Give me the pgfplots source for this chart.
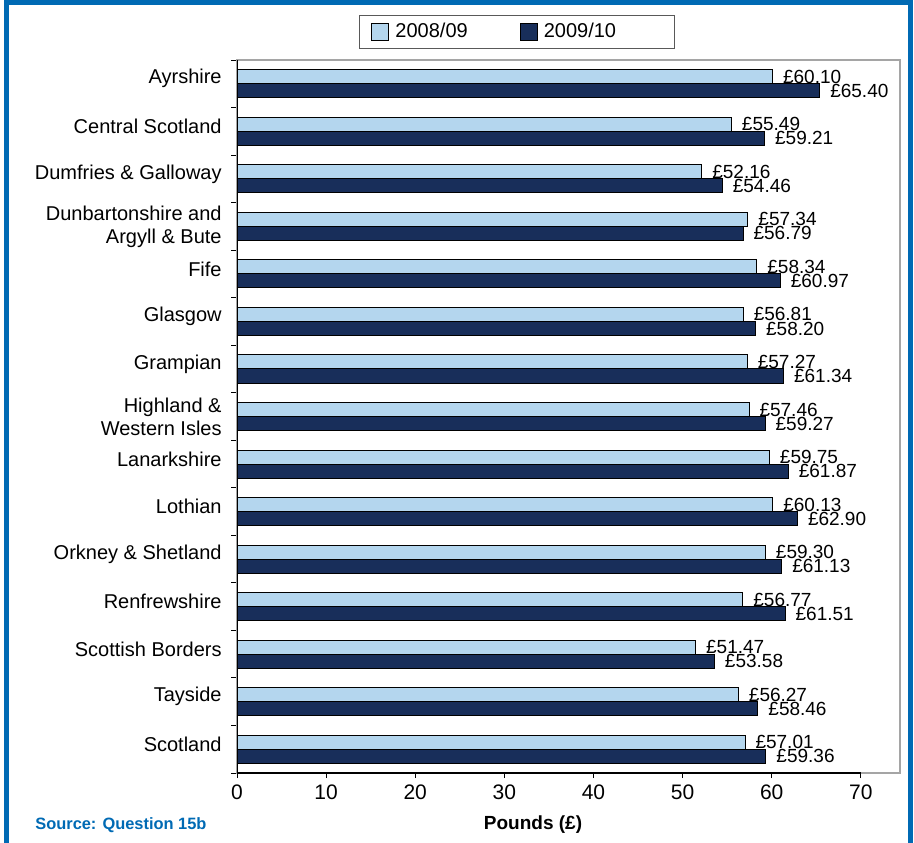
\documentclass[border=0pt]{standalone}
\usepackage{fontspec}
\setmainfont{Liberation Sans}
\usepackage{pgfplots}
\usepackage{pgfplotstable}
\pgfplotsset{compat=1.18}
\definecolor{lightbar}{RGB}{180,214,238}
\definecolor{darkbar}{RGB}{24,46,90}
\definecolor{frameblue}{RGB}{0,106,180}
\definecolor{plotgray}{RGB}{165,165,165}

\pgfplotstableread{
i a b
0 60.10 65.40
1 55.49 59.21
2 52.16 54.46
3 57.34 56.79
4 58.34 60.97
5 56.81 58.20
6 57.27 61.34
7 57.46 59.27
8 59.75 61.87
9 60.13 62.90
10 59.30 61.13
11 56.77 61.51
12 51.47 53.58
13 56.27 58.46
14 57.01 59.36
}\data

\newcommand{\up}[1]{\raisebox{2.5pt}[\height][\depth]{#1}}

\begin{document}
\begin{tikzpicture}
\useasboundingbox (0,0) rectangle (457pt,-421pt);
\begin{axis}[
  at={(118.5pt,-386.5pt)}, anchor=south west,
  scale only axis, width=331.5pt, height=356.5pt,
  xbar, bar width=0.295,
  y dir=reverse,
  xmin=0, xmax=74.4, ymin=-0.5, ymax=14.5,
  /pgf/number format/assume math mode=true,
  xtick={0,10,...,70},
  ytick={0,...,14},
  yticklabels={\up{Ayrshire},\up{Central Scotland},\up{Dumfries \& Galloway},{Dunbartonshire and\\Argyll \& Bute},\up{Fife},\up{Glasgow},\up{Grampian},{Highland \&\\Western Isles},\up{Lanarkshire},\up{Lothian},\up{Orkney \& Shetland},\up{Renfrewshire},\up{Scottish Borders},\up{Tayside},\up{Scotland}},
  minor ytick={-0.5,0.5,...,14.5},
  xtick pos=bottom, ytick pos=left,
  tick align=outside,
  major tick length=2.5pt, minor tick length=3pt,
  major y tick style={draw=none},
  every tick/.style={black, line width=0.5pt},
  every minor tick/.style={black, line width=0.5pt},
  axis line style={plotgray, line width=1pt},
  yticklabel style={font=\fontsize{10}{11.5}\selectfont, align=right, inner sep=0pt, xshift=-5pt},
  xticklabel style={font=\fontsize{10.5}{12}\selectfont},
  xlabel={Pounds (£)},
  every axis x label/.style={at={(axis description cs:0.4465,0)}, anchor=center, yshift=-26pt, font=\bfseries\fontsize{9.5}{11}\selectfont},
  point meta=x,
  nodes near coords={£\pgfmathprintnumber[fixed,fixed zerofill,precision=2]{\pgfplotspointmeta}},
  every node near coord/.append style={font=\fontsize{9.5}{11}\selectfont, anchor=west, inner sep=0pt, xshift=5pt, black},
  legend columns=2,
  legend style={at={(axis description cs:0.184,1.0631)}, anchor=north west, draw=gray!70!black, line width=0.5pt, font=\fontsize{10}{12}\selectfont, inner xsep=6pt, inner ysep=2.8pt, nodes={inner xsep=1pt, inner ysep=1pt}, /tikz/every even column/.append style={column sep=25pt}},
  legend image code/.code={\draw[#1, line width=0.5pt] (0pt,-4.25pt) rectangle (8.5pt,4.25pt); \path (10.5pt,0pt);},
]
\addplot[fill=lightbar, draw=black, line width=0.5pt, bar shift=-0.1475] table[x=a, y=i] {\data};
\addplot[fill=darkbar, draw=black, line width=0.5pt, bar shift=0.1475] table[x=b, y=i] {\data};
\legend{2008/09, 2009/10\hspace*{22pt}}
\draw[black, line width=0.6pt] (axis cs:0,-0.55) -- (axis cs:0,14.5) -- (axis cs:70,14.5);
\end{axis}
\node[anchor=west, font=\bfseries\fontsize{8.2}{10}\selectfont, text=frameblue, inner sep=0pt] at (17.5pt,-412.5pt) {Source: Question 15b};
\draw[frameblue, line width=2.5pt] (3.25pt,-430pt) -- (3.25pt,-1.25pt) -- (455pt,-1.25pt) -- (455pt,-430pt);
\end{tikzpicture}
\end{document}
